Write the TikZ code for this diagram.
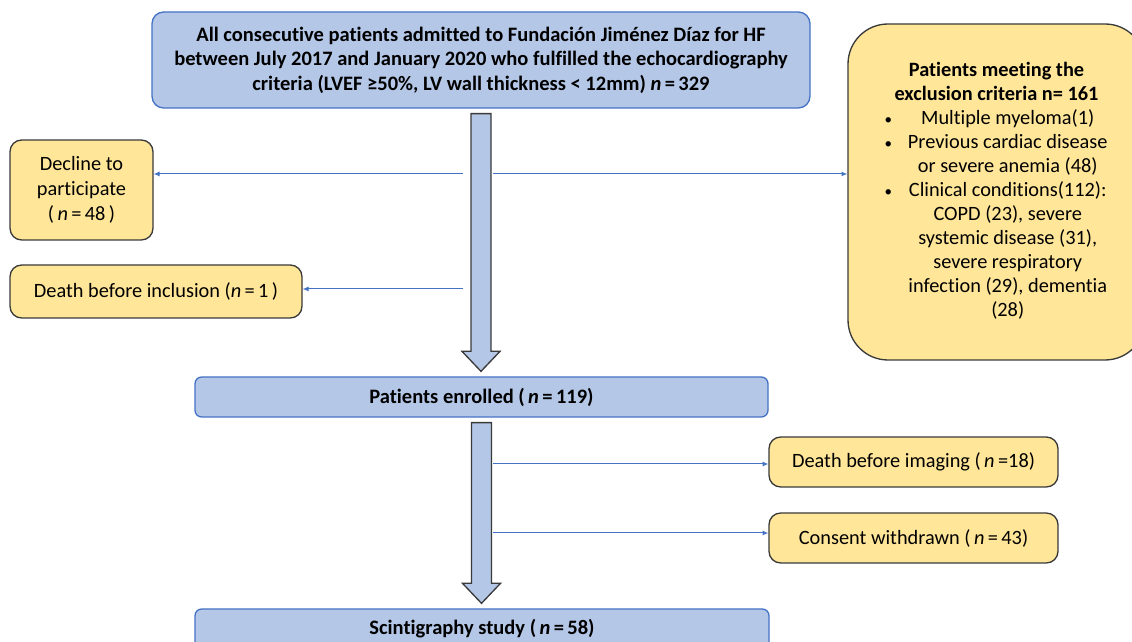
\documentclass[tikz,border=0pt]{standalone}
\usepackage{fontspec}
\setmainfont{Carlito}[Ligatures=NoCommon]
\usetikzlibrary{arrows.meta,calc}
\definecolor{boxblue}{HTML}{B4C7E7}
\definecolor{lineblue}{HTML}{4472C4}
\definecolor{boxyellow}{HTML}{FFE699}
\definecolor{darkline}{HTML}{3A3A3A}
\begin{document}
\begin{tikzpicture}[x=0.6pt,y=-0.6pt,
    bluebox/.style = {shape = rectangle,
                      rounded corners = 7pt,
                      draw = lineblue,
                      fill = boxblue,
                      line width = 0.8pt,
                      inner sep = 0pt,
                      align = center,
                      font = \bfseries\fontsize{12.3}{14.7}\selectfont},
    yelbox/.style = {shape = rectangle,
                     rounded corners = 7pt,
                     draw = darkline,
                     fill = boxyellow,
                     line width = 0.8pt,
                     inner sep = 0pt,
                     align = center,
                     font = \fontsize{12.2}{15}\selectfont},
    thinarrow/.style = {draw = lineblue, line width = 0.6pt,
                        -{Latex[length=3.5pt,width=3pt]}},
    fatarrow/.style = {draw = darkline, fill = boxblue, line width = 0.8pt,
                       to path = {let \p1 = (\tikztostart), \p2 = (\tikztotarget) in
                                  (\x1-6pt,\y1-3pt) -- (\x1+6pt,\y1-3pt) -- (\x1+6pt,\y2+15pt)
                                  -- (\x1+11.4pt,\y2+15pt) -- (\x1,\y2+3pt)
                                  -- (\x1-11.4pt,\y2+15pt) -- (\x1-6pt,\y2+15pt) -- cycle}}]
    \useasboundingbox (0,0) rectangle (1132,642);
    \clip (0,0) rectangle (1132,642);
    % main flow
    \node[bluebox, minimum width = 394.8pt, minimum height = 57.6pt] (allpat) at (481,60)
        {All consecutive patients admitted to Fundación Jiménez Díaz for HF\\
         between July 2017 and January 2020 who fulfilled the echocardiography\\
         criteria (LVEF ≥50\%, LV wall thickness < 12mm) \textit{n}\,=\,329};
    \node[bluebox, rounded corners = 4pt, minimum width = 343.8pt, minimum height = 24pt] (enrolled) at (481.5,397)
        {Patients enrolled (\,\textit{n}\,=\,119)};
    \node[bluebox, rounded corners = 4pt, minimum width = 344.4pt, minimum height = 24pt] (scinti) at (482,629)
        {Scintigraphy study (\,\textit{n}\,=\,58)};
    % excluded
    \node[yelbox, minimum width = 85.8pt, minimum height = 60pt] (decline) at (81.5,190)
        {Decline to\\ participate\\ (\,\textit{n}\,=\,48\,)};
    \node[yelbox, minimum width = 175.2pt, minimum height = 31.8pt] (deathinc) at (156,291.5)
        {Death before inclusion (\textit{n}\,=\,1\,)};
    \node[yelbox, rounded corners = 24pt, minimum width = 178.2pt, minimum height = 201.6pt,
          font = \fontsize{12.2}{14.4}\selectfont] (excl) at (996.5,192)
        {\begin{tabular}{@{}l@{\hspace{9pt}}c@{}}
         \multicolumn{2}{c}{\bfseries Patients meeting the}\\
         \multicolumn{2}{c}{\bfseries exclusion criteria n= 161}\\
         {\small\textbullet} & Multiple myeloma(1)\\
         {\small\textbullet} & Previous cardiac disease\\
                             & or severe anemia (48)\\
         {\small\textbullet} & Clinical conditions(112):\\
                             & COPD (23), severe\\
                             & systemic disease (31),\\
                             & severe respiratory\\
                             & infection (29), dementia\\
                             & (28)
         \end{tabular}};
    \node[yelbox, minimum width = 173.4pt, minimum height = 30pt] (deathimg) at (913.5,462)
        {Death before imaging (\,\textit{n}\,=18)};
    \node[yelbox, minimum width = 173.4pt, minimum height = 30pt] (consent) at (913.5,538)
        {Consent withdrawn (\,\textit{n}\,=\,43)};
    % big arrows
    \draw[fatarrow] (allpat.south) to (enrolled.north);
    \draw[fatarrow] (enrolled.south) to (scinti.north);
    % side branches
    \coordinate (b1) at (463,174);
    \coordinate (b2) at (493,174);
    \coordinate (b3) at (463,289);
    \coordinate (b4) at (493,464);
    \coordinate (b5) at (493,533);
    \draw[thinarrow] (b1) -- (b1 -| decline.east);
    \draw[thinarrow] (b2) -- (b2 -| excl.west);
    \draw[thinarrow] (b3) -- (b3 -| deathinc.east);
    \draw[thinarrow] (b4) -- (b4 -| deathimg.west);
    \draw[thinarrow] (b5) -- (b5 -| consent.west);
\end{tikzpicture}
\end{document}
